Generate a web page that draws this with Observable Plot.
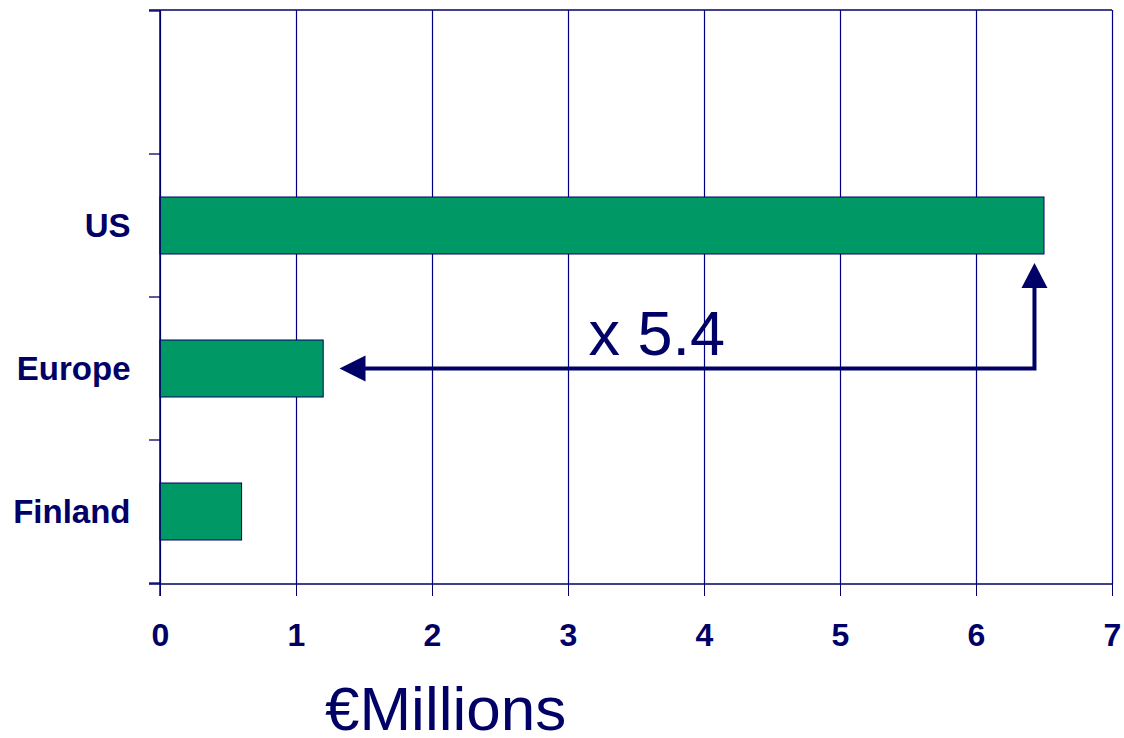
<!DOCTYPE html>
<html><head><meta charset="utf-8">
<script src="https://cdn.jsdelivr.net/npm/d3@7"></script>
<script src="https://cdn.jsdelivr.net/npm/@observablehq/plot@0.6"></script>
<style>body{margin:0;background:#fff;}</style>
</head><body><div id="chart"></div>
<script>
const categories = ["", "US", "Europe", "Finland"];
const regions = ["US", "Europe", "Finland"];
const values = [6.5, 1.2, 0.6];
const xTicks = [0, 1, 2, 3, 4, 5, 6, 7];
const ratioLabel = "x 5.4";
const unitLabel = "€Millions";
const arrowCornerX = 6.43;
const arrowTipX = 1.32;
const ratioLabelX = 3.15;
const unitLabelX = 2.1;

const data = regions.map((r, i) => ({region: r, value: values[i]}));
const navy = "#000066";
const font = "Arial, 'Liberation Sans', Helvetica, sans-serif";

function overlay(index, scales, vals, dims) {
  const {x, y} = scales;
  const bw = typeof y.bandwidth === "function" ? y.bandwidth() : y.bandwidth;
  const c = k => y(k) + bw / 2;
  const step = y(categories[1]) - y(categories[0]);
  const ns = "http://www.w3.org/2000/svg";
  const g = document.createElementNS(ns, "g");
  const add = (tag, attrs, text) => {
    const e = document.createElementNS(ns, tag);
    for (const k in attrs) e.setAttribute(k, attrs[k]);
    if (text != null) e.textContent = text;
    g.appendChild(e);
    return e;
  };
  const left = dims.marginLeft, right = dims.width - dims.marginRight;
  const top = dims.marginTop, bottom = dims.height - dims.marginBottom;
  // band boundary ticks
  const bounds = categories.map(k => c(k) - step / 2).concat([c(categories[categories.length - 1]) + step / 2]);
  bounds.forEach(b => add("line", {x1: left - 11, x2: left, y1: b, y2: b, stroke: navy, "stroke-width": 1.3}));
  // top border & bottom axis line
  add("line", {x1: left - 11, x2: right, y1: top, y2: top, stroke: navy, "stroke-width": 1.3});
  add("line", {x1: left - 11, x2: right, y1: bottom, y2: bottom, stroke: navy, "stroke-width": 1.3});
  add("line", {x1: left, x2: left, y1: top, y2: bottom + 12, stroke: navy, "stroke-width": 1.5});
  // arrow
  const cx = x(arrowCornerX), ey = c("Europe");
  const usBottom = c("US") + bw / 2;
  const tipY = usBottom + 9, headLen = 25, headW = 13;
  const tipX = x(arrowTipX);
  add("path", {d: `M${tipX + headLen},${ey}H${cx}V${tipY + headLen}`, fill: "none", stroke: navy, "stroke-width": 4, "stroke-linejoin": "miter"});
  add("path", {d: `M${cx},${tipY}L${cx - headW},${tipY + headLen}L${cx + headW},${tipY + headLen}Z`, fill: navy});
  add("path", {d: `M${tipX},${ey}L${tipX + headLen + 1},${ey - headW}L${tipX + headLen + 1},${ey + headW}Z`, fill: navy});
  // labels
  add("text", {x: x(ratioLabelX), y: ey - 14, "font-size": 63, fill: navy, "font-family": font, "text-anchor": "start"}, ratioLabel);
  add("text", {x: x(unitLabelX), y: dims.height - 8, "font-size": 62, fill: navy, "font-family": font, "text-anchor": "middle"}, unitLabel);
  return g;
}

const chart = Plot.plot({
  width: 1124,
  height: 738,
  marginLeft: 160,
  marginRight: 12,
  marginTop: 10,
  marginBottom: 154,
  style: {fontFamily: font, background: "white", color: navy},
  x: {domain: [0, 7], ticks: xTicks},
  y: {domain: categories, paddingInner: 0.6, paddingOuter: 0.3},
  marks: [
    Plot.ruleX(xTicks, {stroke: "#000080", strokeWidth: 1.2}),
    Plot.barX(data, {x: "value", y: "region", fill: "#009966", stroke: navy, strokeWidth: 1}),
    Plot.axisX({ticks: xTicks, tickSize: 12, tickPadding: 27, fontSize: 32, fontWeight: "bold", label: null, color: navy, tickFormat: d => String(d)}),
    Plot.axisY({tickSize: 0, tickPadding: 30, fontSize: 33, fontWeight: "bold", label: null, color: navy}),
    overlay
  ]
});
document.getElementById("chart").appendChild(chart);
</script>
</body></html>
